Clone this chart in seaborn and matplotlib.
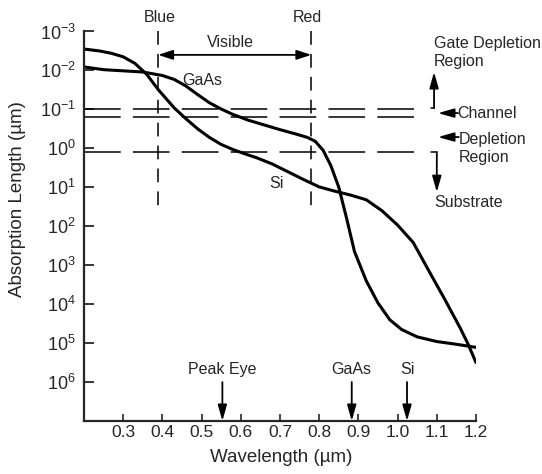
import numpy as np
import pandas as pd
import matplotlib
matplotlib.use("Agg")
import matplotlib.pyplot as plt
import seaborn as sns

# ---- data (log10 of absorption length in um) ----
si_wavelength = [0.20, 0.24, 0.27, 0.30, 0.33, 0.36, 0.39, 0.43, 0.46, 0.49, 0.52, 0.55,
                 0.58, 0.61, 0.64, 0.68, 0.72, 0.76, 0.80, 0.84, 0.88, 0.92, 0.96, 1.00,
                 1.04, 1.08, 1.12, 1.16, 1.18, 1.20]
si_log_length = [-2.55, -2.50, -2.44, -2.35, -2.18, -1.90, -1.50, -1.04, -0.76, -0.50, -0.28, -0.10,
                 0.03, 0.14, 0.24, 0.40, 0.60, 0.80, 0.99, 1.10, 1.20, 1.32, 1.60, 1.97,
                 2.42, 3.15, 3.87, 4.62, 5.03, 5.50]

gaas_wavelength = [0.20, 0.25, 0.30, 0.35, 0.40, 0.43, 0.46, 0.49, 0.52, 0.55, 0.58, 0.62,
                   0.66, 0.70, 0.74, 0.77, 0.79, 0.81, 0.83, 0.85, 0.87, 0.89, 0.92, 0.95,
                   0.98, 1.01, 1.05, 1.10, 1.15, 1.20]
gaas_log_length = [-2.09, -2.02, -1.99, -1.96, -1.87, -1.77, -1.60, -1.38, -1.17, -1.01, -0.87, -0.72,
                   -0.60, -0.48, -0.37, -0.28, -0.18, 0.05, 0.45, 1.00, 1.80, 2.65, 3.40, 3.97,
                   4.40, 4.65, 4.84, 4.96, 5.03, 5.11]

x_ticks = [0.3, 0.4, 0.5, 0.6, 0.7, 0.8, 0.9, 1.0, 1.1, 1.2]
x_tick_labels = ["0.3", "0.4", "0.5", "0.6", "0.7", "0.8", "0.9", "1.0", "1.1", "1.2"]
y_exponents = [-3, -2, -1, 0, 1, 2, 3, 4, 5, 6]
y_tick_labels = [r"$10^{-3}$", r"$10^{-2}$", r"$10^{-1}$", r"$10^{0}$", r"$10^{1}$",
                 r"$10^{2}$", r"$10^{3}$", r"$10^{4}$", r"$10^{5}$", r"$10^{6}$"]

band_edges = {"Blue": 0.389, "Red": 0.78}
band_label_x = {"Blue": 0.392, "Red": 0.771}
layer_levels = [-1.0, -0.8, 0.1]          # log10 of dashed horizontal lines
peak_markers = {"Peak Eye": 0.553, "GaAs": 0.883, "Si": 1.024}

# ---- style ----
sns.set_style("ticks")
plt.rcParams["font.family"] = ["Liberation Sans", "DejaVu Sans"]
plt.rcParams["mathtext.fontset"] = "custom"
plt.rcParams["mathtext.rm"] = "Liberation Sans"
plt.rcParams["mathtext.default"] = "regular"

fig = plt.figure(figsize=(5.42, 4.74), dpi=100)
ax = fig.add_axes([84 / 542, 53 / 474, 392 / 542, 389.5 / 474])

df = pd.concat([
    pd.DataFrame({"wl": si_wavelength, "len": 10.0 ** np.array(si_log_length), "mat": "Si"}),
    pd.DataFrame({"wl": gaas_wavelength, "len": 10.0 ** np.array(gaas_log_length), "mat": "GaAs"}),
])
sns.lineplot(data=df, x="wl", y="len", units="mat", estimator=None, color="black",
             lw=2.2, sort=False, ax=ax, legend=False)
for ln in ax.lines:
    ln.set_solid_joinstyle("round")

ax.set_yscale("log")
ax.set_xlim(0.2, 1.2)
ax.set_ylim(1e7, 1e-3)
ax.set_xticks(x_ticks)
ax.set_xticklabels(x_tick_labels, fontsize=12.5)
ax.set_yticks([10.0 ** e for e in y_exponents])
ax.set_yticklabels(y_tick_labels, fontsize=13)
ax.minorticks_off()
ax.tick_params(axis="y", direction="in", length=7, width=1.3, pad=6)
ax.tick_params(axis="x", direction="in", length=5, width=1.2, pad=3)
sns.despine(ax=ax)
for s in ["left", "bottom"]:
    ax.spines[s].set_linewidth(1.6)

ax.set_xlabel("Wavelength (µm)", fontsize=13.5)
ax.set_ylabel("Absorption Length (µm)", fontsize=13.5)
ax.xaxis.set_label_coords(0.503, -0.072)
ax.yaxis.set_label_coords(-0.148, 0.571)

# vertical band edges
for name, wl in band_edges.items():
    ax.plot([wl, wl], [10.0 ** -3, 10.0 ** 1.59], color="black", lw=1.1,
            linestyle=(0, (9, 6)), clip_on=False)
    ax.text(band_label_x[name], 10.0 ** -3.35, name, ha="center", va="center", fontsize=11.5,
            clip_on=False)

# horizontal layer lines
for lv in layer_levels:
    ax.plot([0.2, 1.064], [10.0 ** lv] * 2, color="black", lw=1.1,
            linestyle=(0, (24, 8)))

# Visible arrow
ax.annotate("", xy=(band_edges["Blue"], 10.0 ** -2.4), xytext=(band_edges["Red"], 10.0 ** -2.4),
            arrowprops=dict(arrowstyle="<|-|>,head_length=0.55,head_width=0.18", color="black",
                            lw=1.3, mutation_scale=16, shrinkA=0, shrinkB=0))
ax.text(0.573, 10.0 ** -2.73, "Visible", ha="center", va="center", fontsize=11.5)

# curve labels
ax.text(0.502, 10.0 ** -1.75, "GaAs", ha="center", va="center", fontsize=11.5)
ax.text(0.691, 10.0 ** 0.89, "Si", ha="center", va="center", fontsize=11.5)

# right side annotations
arr = dict(arrowstyle="-|>,head_length=0.6,head_width=0.17", color="black", lw=1.3,
           mutation_scale=16, shrinkA=0, shrinkB=0)
ax.plot([1.085, 1.093], [10.0 ** -1.03] * 2, color="black", lw=1.1)
ax.annotate("", xy=(1.093, 10.0 ** -1.96), xytext=(1.093, 10.0 ** -1.03), arrowprops=arr,
            annotation_clip=False)
ax.text(1.093, 10.0 ** -2.47, "Gate Depletion\nRegion", ha="left", va="center",
        fontsize=11.5, linespacing=1.25, clip_on=False)

ax.annotate("", xy=(1.103, 10.0 ** -0.905), xytext=(1.154, 10.0 ** -0.905), arrowprops=arr,
            annotation_clip=False)
ax.text(1.152, 10.0 ** -0.905, "Channel", ha="left", va="center", fontsize=11.5, clip_on=False)

ax.annotate("", xy=(1.103, 10.0 ** -0.29), xytext=(1.156, 10.0 ** -0.29), arrowprops=arr,
            annotation_clip=False)
ax.text(1.156, 10.0 ** 0.008, "Depletion\nRegion", ha="left", va="center", fontsize=11.5,
        linespacing=1.25, clip_on=False)

ax.plot([1.085, 1.100], [10.0 ** 0.1] * 2, color="black", lw=1.1)
ax.annotate("", xy=(1.100, 10.0 ** 1.125), xytext=(1.100, 10.0 ** 0.1), arrowprops=arr,
            annotation_clip=False)
ax.text(1.093, 10.0 ** 1.38, "Substrate", ha="left", va="center", fontsize=11.5, clip_on=False)

# bottom markers
for name, wl in peak_markers.items():
    ax.annotate("", xy=(wl, 10.0 ** 7), xytext=(wl, 10.0 ** 6.0), arrowprops=arr,
                annotation_clip=False)
    ax.text(wl, 10.0 ** 5.68, name, ha="center", va="center", fontsize=11.5)

fig.savefig("out.png", dpi=100)
